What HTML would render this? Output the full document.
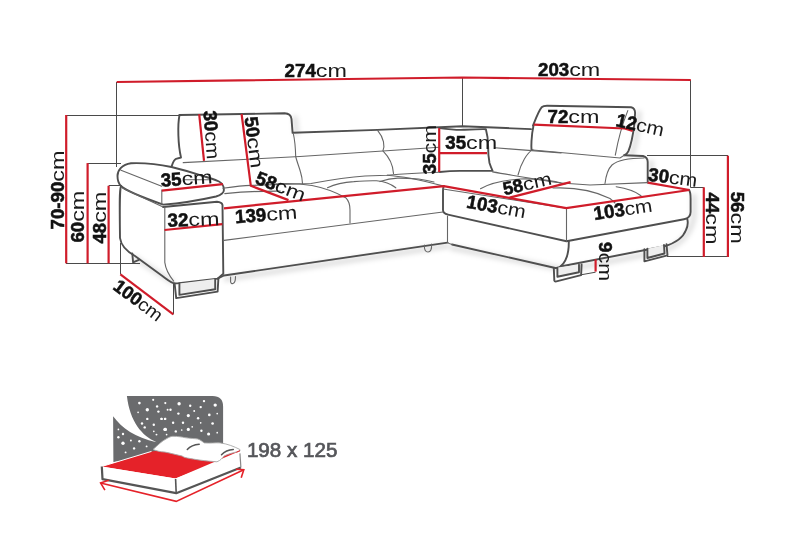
<!DOCTYPE html>
<html><head><meta charset="utf-8">
<style>
html,body{margin:0;padding:0;background:#fff;width:800px;height:533px;overflow:hidden}
svg{display:block;filter:blur(0.35px)}
text{font-family:"Liberation Sans",sans-serif;fill:#111}
.b{font-weight:bold;stroke:#111;stroke-width:0.55;paint-order:stroke}
.c{fill:#1a1a1a}
.dim path{stroke:#4a4a4a;stroke-width:1;fill:none}
.red path{stroke:#d01c2a;stroke-width:2.2;fill:none;stroke-linecap:butt}
.ol path{stroke:#4f4f4f;stroke-width:1.9;fill:none;stroke-linejoin:round;stroke-linecap:round}
.in path{stroke:#666;stroke-width:1.1;fill:none;stroke-linecap:round}
</style></head><body>
<svg width="800" height="533" viewBox="0 0 800 533">
<defs><filter id="bl" x="-20%" y="-20%" width="140%" height="140%"><feGaussianBlur stdDeviation="2.5"/></filter></defs>
<g filter="url(#bl)" stroke="#000" stroke-opacity="0.13" fill="none" stroke-width="5" stroke-linecap="round">
<path d="M295,118 L296.5,133"/>
<path d="M639,113 C638,130 636,145 631,156"/>
<path d="M651,162 L651.5,182"/>
<path d="M694,196 L694,216 C692,230 684,242 668,249"/>
<path d="M226,279 L447,246"/>
<path d="M452,248 L566,270 L664,251"/>
<path d="M135,258 L172,282"/>
</g>
<g class="dim">
<path d="M116.5,82 V167"/>
<path d="M66,115.5 H180"/>
<path d="M87.6,163.5 H121"/>
<path d="M108.7,185.5 H120.5"/>
<path d="M66,263.5 H140"/>
<path d="M120.5,243 V274.4"/>
<path d="M173.5,283.5 V314.4"/>
<path d="M462.5,77.5 V126.3"/>
<path d="M690.5,80 V187.5"/>
<path d="M647,155.5 H728"/>
<path d="M690.5,187.5 H703.8"/>
<path d="M667,256.5 H728"/>
<path d="M581.6,274.7 L595.6,272.2"/>
</g>
<g class="ol">
<!-- left headrest -->
<path d="M179.5,115 L284.6,113.3 Q290.8,113.6 291.5,119 L292.6,132.8 L377.6,129.9 L462.3,126.3 L531,129.1"/>
<path d="M179.5,115 C177.5,125 178,145 181,157.5 L176,158.8 C173.5,159.8 173,162 171.5,167"/>
<!-- arm cushion -->
<path d="M171.5,167 C160,164.5 142,162.8 131,163.2 C122,164.5 117.5,170 117.5,176 C117.5,181 119,184 121,186 C126,191 150,200 163.1,204.6 C185,203 205,199 216,196.5 C221,195 223.9,193 223.9,190 C224,186 222,183 219,181.5 C212,178.4 205,176.5 199.4,174.9 C192,172.5 185,170.3 171.5,167"/>
<!-- arm body -->
<path d="M121,186 C119.5,190 119.5,200 120,238 C121,246 126,251 135,256 L161,275 C166,279 169,281.5 173.5,283.2 C175.5,283.6 177,283.4 179,283.1 L217.6,278.6 L224,275.5 L447.5,242.6"/>
<path d="M163.1,207 L217,201.8 C220,202 222,203 222.5,205 L223.3,273.7 L217.6,278.6"/>
<!-- chaise -->
<path d="M443.8,186.1 C443,187.5 443,189.5 443,191 L443,210 C443,212.5 445,214 448,214.6 L566.5,241.2 L684,219.2 C688,218.5 690.6,216 690.6,212 L690.6,198.8 C690.6,194 690,191 689,189.8"/>
<path d="M452,244.5 L555.3,268 C557,268.3 558.5,267.8 560.5,266.5 C566,262 569,254 568.8,241.2"/>
<path d="M560.5,266.5 L664.5,246.3 C674,243.5 683,238 686,230 C688,226 688,222 687.3,219"/>
<!-- right arm -->
<path d="M624.3,155.2 L643,156 C646,156.8 647.7,159 647.7,162 L647.7,182.6"/>
<!-- right headrest -->
<path d="M533,125.6 C536,118 538.5,111 541.6,107.3 C543,106 545,105.7 547,105.7 L631,107.3 C634,108 635.1,110 635.1,113 L634.3,124.4 C633,135 631,145 628.4,151.2 C627,154 625.5,155 624.3,155.2"/>
<path d="M533.5,125.6 C532.3,131 531.8,136 531.5,141 C531.3,145 531.3,148 531.5,150"/>
<!-- center pillow -->
<path d="M439.7,128.1 C450,129.5 458,130 463.4,129.8 C472,129.4 480,129 485.9,129.2 C487.5,135 488.1,140 488.1,146 C488.1,152 488.5,158 489.5,163 C490.5,166 491.5,168.5 492.6,170.9 C482,170.9 470,170.9 460,170.9 C452,171 445,171.5 439.7,172"/>
<!-- legs -->
<path d="M174.6,283.5 L176.2,298.1 L217.6,291.6 L218.4,278.6"/>
<path d="M179.4,283.5 L179.4,294.9 L215.2,289.2 L215.2,279" style="fill:#eee"/>
<path d="M553.8,268 L554.3,280.4 C554.5,281.2 555.5,281.6 556.4,281.4 L581.1,275.2 L581.6,264.4"/>
<path d="M557.4,267.6 L557.4,276.8 L579,272.2 L579,264.8" style="fill:#eee"/>
<path d="M644.4,249.3 L644.4,261.3 L667.5,255.3 L666.5,244.3"/>
<path d="M647.4,248.8 L647.4,258 L664.5,253.5 L664,245" style="fill:#eee"/>
<path d="M132.3,253.4 L133.1,262.4 L138.8,259.9"/>
</g>
<g class="in">
<!-- headrest bottom / back middle line -->
<path d="M183.2,162.6 L300,156.5 L382.9,151 L439.2,147.2"/>
<path d="M494.9,147.8 L561,152.9"/>
<path d="M533,150 L620,158 L624.3,155.2"/>
<!-- back cushion curves -->
<path d="M293.3,133.5 C294.8,140 295.5,149 295.7,156.5 C297,162 299.5,168 300.5,172 C301.8,176 302.3,180 302.5,183.5"/>
<path d="M377.6,130.3 C384,138 385,146 382.9,150.9 C389,157 393,165 393.5,173.5"/>
<path d="M532.9,149.4 C527,153 521,163 518,175"/>
<path d="M627.8,110.6 C622,125 618,140 615.3,155.2"/>
<path d="M605,183.5 C606,175 608,169 612,165 C618,160 630,158 644,158"/>
<!-- seat back edge -->
<path d="M222.9,188.2 C235,186.5 245,185.5 250.9,185.4 L311,183.5 C330,180 345,177.3 365,176 L387,175.2 C400,174 415,172.9 439.7,172.2"/>
<path d="M492.6,171.9 C520,176.5 545,181 561,183 L590,185 L647.7,182.6"/>
<!-- arm lines -->
<path d="M121,170.3 L161.7,186.2"/>
<path d="M183.6,179.7 L209,179.7"/>
<path d="M161.8,190 V204.6"/>
<path d="M122.7,188.2 L163.1,207"/>
<path d="M164.8,207 L164.8,262.4 C165.5,268 167,273 173.7,281.1"/>
<!-- seat -->
<path d="M224.1,240.4 L443,212"/>
<path d="M224.8,193.6 C240,192 260,191 280.3,191.1"/>
<path d="M272.6,184 C285,183 300,183.5 312,185.5 C325,188 337,193 345.7,197.7 C349,201 350,205 350,210 L350,223"/>
<path d="M327.5,187.8 C335,184 345,182 353.8,181.6 C362,181 370,180.5 376.5,180.8 C385,181.5 391,184 395.8,187.8"/>
<path d="M387,175.2 C400,176 415,178.5 443.8,186.1"/>
<path d="M380,181.6 C386,179.5 392,178.3 397.6,178.1 C405,178 412,178.5 418.6,179 C425,180 430,181 434,182"/>
<path d="M443,189 L566.5,208.2 L566.5,241.2"/>
<path d="M480.5,188.75 C490,183 505,180 520,179 C535,178.5 550,180 565,184"/>
<path d="M553,188 C575,187 595,191 610,198.5 C612,200 614,202 615,203"/>
<path d="M616.2,186.7 C625,188 635,191 641,195.7"/>
<path d="M447.5,216 L447.5,242.6 C448,243.5 450,244 452,244.5"/>
<!-- knobs -->
<path d="M424.5,245 C424,249.5 425.5,252 428,252 C430.5,252 432,249.5 431.5,244"/>
<path d="M230.6,277 L230.6,281.9 C231,283.5 232,283.8 233,283.5 C235,283 235.5,281.5 235.5,276.5"/>
</g>
<g class="red">
<path d="M116.7,82 L462.6,77.5 L690.8,80"/>
<path d="M66.2,115 V263.3"/>
<path d="M87.6,163.1 V263.3"/>
<path d="M108.6,185.8 V263.3"/>
<path d="M120.4,274.4 L173.3,314.4"/>
<path d="M199.2,114.2 L204,160.8"/>
<path d="M241.6,114 L250.8,185.8 L288.5,200.1"/>
<path d="M224,208.3 L443.8,186.1 L566.3,208.2 L689.3,190"/>
<path d="M161.8,190.6 L222.9,184.1"/>
<path d="M164.5,230 L222.3,224.1"/>
<path d="M439.2,128.1 V172"/>
<path d="M439.7,153.1 H487"/>
<path d="M509.5,197.6 L570.6,182.1"/>
<path d="M533.8,124.7 L624.6,128.5 L632.7,130.9"/>
<path d="M647.7,182.6 L689.3,190"/>
<path d="M703.8,187.3 V257"/>
<path d="M727.9,155.7 V257"/>
<path d="M595.6,259.3 V271.6"/>
</g>
<g><g transform="translate(284.6,77.1) rotate(0)"><text class="b" font-size="18.7" transform="scale(1.0,1)">274</text><text class="c" font-size="18.7" transform="translate(31.19,0) scale(1.25,1)">cm</text></g><g transform="translate(538.0,75.5) rotate(0)"><text class="b" font-size="18.7" transform="scale(1.0,1)">203</text><text class="c" font-size="18.7" transform="translate(31.19,0) scale(1.25,1)">cm</text></g><g transform="translate(64.0,229.5) rotate(-90)"><text class="b" font-size="18.7" transform="scale(1.0,1)">70-90</text><text class="c" font-size="18.7" transform="translate(47.82,0) scale(1.25,1)">cm</text></g><g transform="translate(84.4,242.6) rotate(-90)"><text class="b" font-size="18.7" transform="scale(1.0,1)">60</text><text class="c" font-size="18.7" transform="translate(20.79,0) scale(1.25,1)">cm</text></g><g transform="translate(106.1,243.6) rotate(-90)"><text class="b" font-size="18.7" transform="scale(1.0,1)">48</text><text class="c" font-size="18.7" transform="translate(20.79,0) scale(1.25,1)">cm</text></g><g transform="translate(203.6,111.0) rotate(86)"><text class="b" font-size="18.7" transform="scale(1.0,1)">30</text><text class="c" font-size="18.7" transform="translate(20.79,0) scale(1.12,1)">cm</text></g><g transform="translate(244.4,117.4) rotate(82.7)"><text class="b" font-size="18.7" transform="scale(1.0,1)">50</text><text class="c" font-size="18.7" transform="translate(20.79,0) scale(1.25,1)">cm</text></g><g transform="translate(436.4,174.2) rotate(-90)"><text class="b" font-size="18.7" transform="scale(1.0,1)">35</text><text class="c" font-size="18.7" transform="translate(20.79,0) scale(1.15,1)">cm</text></g><g transform="translate(161.2,186.7) rotate(-4)"><text class="b" font-size="18.7" transform="scale(1.0,1)">35</text><text class="c" font-size="18.7" transform="translate(20.79,0) scale(1.25,1)">cm</text></g><g transform="translate(167.8,226.8) rotate(-2)"><text class="b" font-size="18.7" transform="scale(1.0,1)">32</text><text class="c" font-size="18.7" transform="translate(20.79,0) scale(1.25,1)">cm</text></g><g transform="translate(235.6,223.2) rotate(-4.3)"><text class="b" font-size="18.7" transform="scale(1.0,1)">139</text><text class="c" font-size="18.7" transform="translate(31.19,0) scale(1.25,1)">cm</text></g><g transform="translate(254.2,183.1) rotate(21)"><text class="b" font-size="18.7" transform="scale(1.0,1)">58</text><text class="c" font-size="18.7" transform="translate(20.79,0) scale(1.25,1)">cm</text></g><g transform="translate(445.3,148.9) rotate(0)"><text class="b" font-size="18.7" transform="scale(1.0,1)">35</text><text class="c" font-size="18.7" transform="translate(20.79,0) scale(1.25,1)">cm</text></g><g transform="translate(504.5,195.2) rotate(-12.8)"><text class="b" font-size="18.2" transform="scale(1.0,1)">58</text><text class="c" font-size="18.2" transform="translate(20.24,0) scale(1.2,1)">cm</text></g><g transform="translate(547.5,122.8) rotate(0)"><text class="b" font-size="18.7" transform="scale(1.0,1)">72</text><text class="c" font-size="18.7" transform="translate(20.79,0) scale(1.25,1)">cm</text></g><g transform="translate(615.0,126.0) rotate(12.4)"><text class="b" font-size="18.7" transform="scale(1.0,1)">12</text><text class="c" font-size="18.7" transform="translate(20.79,0) scale(1.12,1)">cm</text></g><g transform="translate(647.6,180.5) rotate(7.5)"><text class="b" font-size="18.7" transform="scale(1.0,1)">30</text><text class="c" font-size="18.7" transform="translate(20.79,0) scale(1.15,1)">cm</text></g><g transform="translate(465.8,207.5) rotate(10.4)"><text class="b" font-size="18.7" transform="scale(1.0,1)">103</text><text class="c" font-size="18.7" transform="translate(31.19,0) scale(1.15,1)">cm</text></g><g transform="translate(594.6,219.9) rotate(-8.3)"><text class="b" font-size="18.7" transform="scale(1.0,1)">103</text><text class="c" font-size="18.7" transform="translate(31.19,0) scale(1.12,1)">cm</text></g><g transform="translate(598.9,242.0) rotate(90)"><text class="b" font-size="18.7" transform="scale(1.0,1)">9</text><text class="c" font-size="18.7" transform="translate(10.40,0) scale(1.15,1)">cm</text></g><g transform="translate(706.0,192.5) rotate(90)"><text class="b" font-size="18.7" transform="scale(1.0,1)">44</text><text class="c" font-size="18.7" transform="translate(20.79,0) scale(1.25,1)">cm</text></g><g transform="translate(731.3,191.7) rotate(90)"><text class="b" font-size="18.7" transform="scale(1.0,1)">56</text><text class="c" font-size="18.7" transform="translate(20.79,0) scale(1.25,1)">cm</text></g><g transform="translate(112.0,288.4) rotate(37)"><text class="b" font-size="18.2" transform="scale(1.0,1)">100</text><text class="c" font-size="18.2" transform="translate(30.36,0) scale(1.08,1)">cm</text></g></g>
<g>
<path d="M126.9,396.1 L212.6,396.1 Q223.1,396.1 223.1,406.6 L223.1,446 L113.4,462 L113.1,416.2 C122,428 135,437.5 156.5,442.2 C142,436 130,422 126.9,396.1 Z" fill="#6a6b6d"/>
<g fill="#fff"><circle cx="139.4" cy="403.1" r="1.32"/><circle cx="153.2" cy="399.8" r="1.08"/><circle cx="157.1" cy="406.4" r="1.20"/><circle cx="147.3" cy="409.7" r="1.68"/><circle cx="158.4" cy="411.6" r="1.20"/><circle cx="138.1" cy="412.3" r="0.84"/><circle cx="167.6" cy="409.7" r="0.96"/><circle cx="147.3" cy="418.9" r="1.20"/><circle cx="161.7" cy="418.9" r="1.20"/><circle cx="165" cy="418.9" r="1.20"/><circle cx="142" cy="423.5" r="1.20"/><circle cx="153.8" cy="424.8" r="1.20"/><circle cx="144.7" cy="427.4" r="1.20"/><circle cx="165" cy="429.4" r="1.68"/><circle cx="156.5" cy="434.6" r="0.96"/><circle cx="153.8" cy="431.3" r="0.84"/><circle cx="123" cy="434" r="1.20"/><circle cx="118.4" cy="437.2" r="1.20"/><circle cx="123" cy="443.2" r="1.68"/><circle cx="130.9" cy="440.5" r="0.96"/><circle cx="139.4" cy="441.2" r="1.20"/><circle cx="134.1" cy="448.4" r="1.20"/><circle cx="146.6" cy="446.4" r="0.96"/><circle cx="125.6" cy="452.4" r="0.96"/><circle cx="118.4" cy="429.4" r="0.84"/><circle cx="165.3" cy="403.1" r="1.08"/><circle cx="179.1" cy="403.8" r="1.68"/><circle cx="190.2" cy="405.7" r="1.20"/><circle cx="204" cy="401.1" r="1.20"/><circle cx="215.2" cy="405.1" r="1.68"/><circle cx="200.7" cy="407.1" r="1.20"/><circle cx="170.5" cy="409.7" r="1.20"/><circle cx="178.4" cy="413.6" r="1.20"/><circle cx="188.3" cy="415.6" r="1.56"/><circle cx="194.2" cy="411" r="0.96"/><circle cx="209.3" cy="414.9" r="1.32"/><circle cx="217.2" cy="413.6" r="0.84"/><circle cx="161.3" cy="418.9" r="1.08"/><circle cx="165.3" cy="418.9" r="1.08"/><circle cx="173.1" cy="422.8" r="1.20"/><circle cx="183" cy="422.8" r="1.20"/><circle cx="198.1" cy="418.2" r="1.20"/><circle cx="212.6" cy="423.5" r="1.32"/><circle cx="200.7" cy="422.8" r="0.84"/><circle cx="165.3" cy="429.4" r="1.68"/><circle cx="175.8" cy="431.4" r="1.20"/><circle cx="188.3" cy="429.4" r="1.56"/><circle cx="192.2" cy="426.8" r="0.84"/><circle cx="201.4" cy="430.7" r="1.20"/><circle cx="208.6" cy="434" r="1.56"/><circle cx="217.2" cy="432.7" r="0.84"/><circle cx="166.6" cy="434.6" r="0.84"/><circle cx="181.7" cy="430" r="0.84"/></g>
<path d="M101.6,466.5 L151.5,451.4 L165,450 L240,451 L175.5,478.4 Z" fill="#e52229"/>
<path d="M101.6,466.5 L151.5,451.4" stroke="#fff" stroke-width="1" fill="none"/>
<path d="M101.6,466.5 L175.5,478.4 L239.9,453.4 L240.9,467.5 L176.2,493.2 L102.5,479.2 Z" fill="#fff"/>
<path d="M101.8,466.5 L102.5,479.2 L176.2,493.2 L240.9,467.5" stroke="#555" stroke-width="2.2" fill="none" stroke-linejoin="round"/>
<path d="M175.6,479 L176.2,493.2" stroke="#555" stroke-width="1.6" fill="none"/>
<path d="M239.9,453.4 L240.9,467.5" stroke="#888" stroke-width="1.2" fill="none"/>
<path d="M153,449.5 C158,445 162,441 166,439 C169,437.2 171,436.3 172.9,436.3 C178,436.3 182,437 184.7,437.6 C190,438.5 195,438.5 197.9,439 C201,440 202.5,442 204.4,442.9 C210,443.5 215,442.5 220.2,442.9 C228,444 234,446.5 239.9,449.5 L239.9,451 C234,452.5 228,454 224.1,456 C222,458.5 221,460 217,461.8 C205,461 195,459.5 187.3,458 C184,457.5 183,456.5 182.1,456 C175,454.5 170,453 165,452.1 C160,451.8 157,451 153,449.5 Z" fill="#fff" stroke="#a8a8a8" stroke-width="0.9"/>
<path d="M187.3,449.5 Q191.5,444.8 199.2,444.2" stroke="#555" stroke-width="1.5" fill="none" stroke-linecap="round"/>
<path d="M221.5,454.7 Q226,450 233.3,449.5" stroke="#555" stroke-width="1.5" fill="none" stroke-linecap="round"/>
<path d="M236.5,452.3 L240,450.6" stroke="#e52229" stroke-width="1" fill="none"/>
<path d="M100.6,483 L176.2,501.4 L243.8,469.8" fill="none" stroke="#e52229" stroke-width="1.6"/>
<path d="M108.8,480.3 L100.6,483 L104.9,490.2" fill="none" stroke="#e52229" stroke-width="1.6"/>
<path d="M236,469.2 L243.8,469.8 L241.2,477.7" fill="none" stroke="#e52229" stroke-width="1.6"/>
</g>
<text x="246.9" y="456.8" font-size="20.6" style="fill:#55565a;stroke:#55565a;stroke-width:0.7">198 x 125</text>
</svg>
</body></html>
